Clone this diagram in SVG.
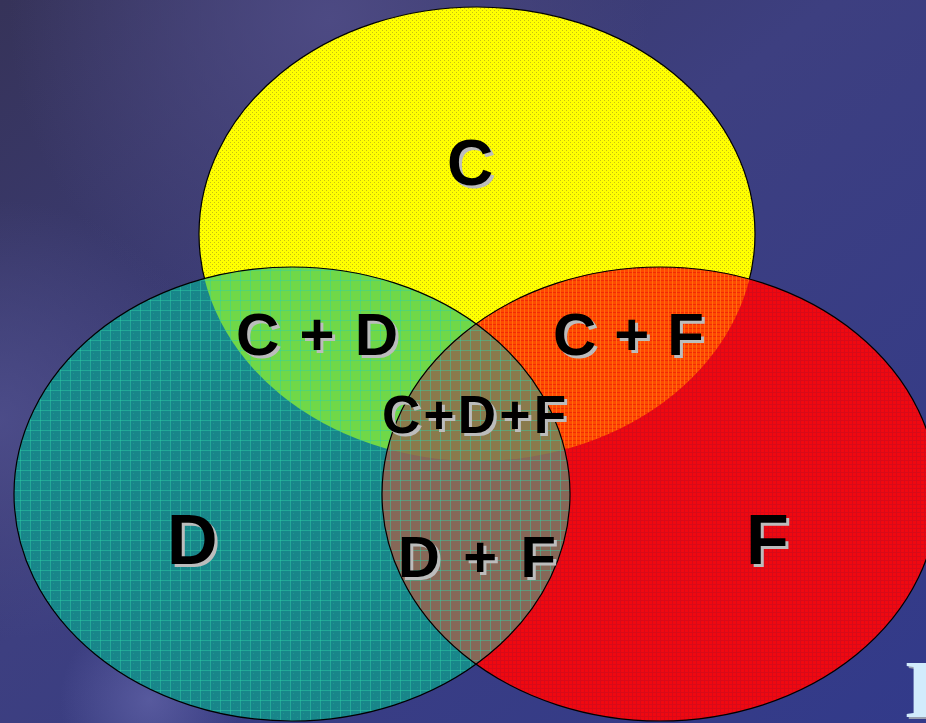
<svg xmlns="http://www.w3.org/2000/svg" width="926" height="723" viewBox="0 0 926 723">
  <defs>
    <linearGradient id="bg" x1="0" y1="0" x2="1" y2="1">
      <stop offset="0" stop-color="#363359"/>
      <stop offset="0.45" stop-color="#3d3f80"/>
      <stop offset="1" stop-color="#323a8a"/>
    </linearGradient>
    <radialGradient id="glow1" cx="330" cy="20" r="320" gradientUnits="userSpaceOnUse">
      <stop offset="0" stop-color="#4f4c86" stop-opacity="0.9"/>
      <stop offset="1" stop-color="#4f4c86" stop-opacity="0"/>
    </radialGradient>
    <radialGradient id="glow2" cx="0" cy="420" r="220" gradientUnits="userSpaceOnUse">
      <stop offset="0" stop-color="#50508e" stop-opacity="0.8"/>
      <stop offset="1" stop-color="#50508e" stop-opacity="0"/>
    </radialGradient>
    <radialGradient id="glow3" cx="150" cy="700" r="90" gradientUnits="userSpaceOnUse">
      <stop offset="0" stop-color="#6a6cb0" stop-opacity="0.6"/>
      <stop offset="1" stop-color="#6a6cb0" stop-opacity="0"/>
    </radialGradient>
    <pattern id="pY" width="4" height="4" patternUnits="userSpaceOnUse">
      <rect width="4" height="4" fill="#ffff00"/>
      <rect x="0" y="0" width="1" height="1" fill="#c8c010"/>
      <rect x="2" y="2" width="1" height="1" fill="#c8c010"/>
    </pattern>
    <pattern id="pD" width="10" height="10" patternUnits="userSpaceOnUse">
      <rect width="10" height="10" fill="#18868a"/>
      <rect x="3" y="3" width="1" height="1" fill="#22948e"/>
      <rect x="7" y="7" width="1" height="1" fill="#22948e"/>
    </pattern>
    <pattern id="grid" width="10" height="10" patternUnits="userSpaceOnUse">
      <rect x="0" y="0" width="10" height="1" fill="#2fd0a6" fill-opacity="0.45"/>
      <rect x="0" y="0" width="1" height="10" fill="#2fd0a6" fill-opacity="0.45"/>
    </pattern>
    <pattern id="pF" width="4" height="4" patternUnits="userSpaceOnUse">
      <rect width="4" height="4" fill="#f00810"/>
      <rect x="0" y="0" width="4" height="1" fill="#d80a18"/>
      <rect x="0" y="0" width="1" height="4" fill="#d80a18"/>
    </pattern>
    <pattern id="pCF" width="4" height="4" patternUnits="userSpaceOnUse">
      <rect width="4" height="4" fill="#ff4a00"/>
      <rect x="0" y="0" width="4" height="1" fill="#f02a08"/>
      <rect x="0" y="0" width="1" height="4" fill="#ff6a10"/>
    </pattern>
    <clipPath id="cY"><ellipse cx="477" cy="234" rx="278" ry="227"/></clipPath>
    <clipPath id="cD"><ellipse cx="292" cy="494" rx="278" ry="227"/></clipPath>
  </defs>
  <style>
    .lab { font-family: "Liberation Sans", Arial, sans-serif; font-weight: bold; fill: #000; }
    .sh { font-family: "Liberation Sans", Arial, sans-serif; font-weight: bold; fill: #bcbcbc; }
    .edge { fill: none; stroke: #000; stroke-width: 1.2; }
  </style>

  <rect width="926" height="723" fill="url(#bg)"/>
  <rect width="926" height="723" fill="url(#glow1)"/>
  <rect width="926" height="723" fill="url(#glow2)"/>
  <rect width="926" height="723" fill="url(#glow3)"/>

  <g id="corner-letter">
    <text x="906" y="719" font-family="Liberation Serif, serif" font-weight="bold" font-size="82" fill="#9aa0b0">I</text>
    <text x="904" y="717" font-family="Liberation Serif, serif" font-weight="bold" font-size="82" fill="#d2ecfc">I</text>
  </g>

  <g id="set-C">
    <ellipse cx="477" cy="234" rx="278" ry="227" class="edge" style="fill:url(#pY)"/>
  </g>
  <g id="set-D">
    <ellipse cx="292" cy="494" rx="278" ry="227" fill="url(#pD)"/>
  </g>
  <g id="set-F">
    <ellipse cx="660" cy="494" rx="278" ry="227" fill="url(#pF)"/>
  </g>

  <g id="overlap-CD" clip-path="url(#cY)">
    <ellipse cx="292" cy="494" rx="278" ry="227" fill="#70d848"/>
  </g>
  <g id="overlap-CF" clip-path="url(#cY)">
    <ellipse cx="660" cy="494" rx="278" ry="227" fill="url(#pCF)"/>
  </g>
  <g id="overlap-DF" clip-path="url(#cD)">
    <ellipse cx="660" cy="494" rx="278" ry="227" fill="#866858"/>
  </g>
  <g id="overlap-CDF" clip-path="url(#cD)">
    <g clip-path="url(#cY)">
      <ellipse cx="660" cy="494" rx="278" ry="227" fill="#8a7a4c"/>
    </g>
  </g>

  <g id="grid-D">
    <ellipse cx="292" cy="494" rx="278" ry="227" fill="url(#grid)"/>
  </g>

  <g id="outlines">
    <ellipse cx="660" cy="494" rx="278" ry="227" class="edge"/>
    <ellipse cx="292" cy="494" rx="278" ry="227" class="edge"/>
  </g>

  <g id="connectors"/>

  <g id="label-C">
    <text class="sh" x="473" y="188" font-size="64" text-anchor="middle">C</text>
    <text class="lab" x="470" y="185" font-size="64" text-anchor="middle">C</text>
  </g>
  <g id="label-CD">
    <text class="sh" x="239" y="358" font-size="60" textLength="162" lengthAdjust="spacing">C + D</text>
    <text class="lab" x="236" y="355" font-size="60" textLength="162" lengthAdjust="spacing">C + D</text>
  </g>
  <g id="label-CF">
    <text class="sh" x="556" y="358" font-size="60" textLength="151" lengthAdjust="spacing">C + F</text>
    <text class="lab" x="553" y="355" font-size="60" textLength="151" lengthAdjust="spacing">C + F</text>
  </g>
  <g id="label-CDF">
    <text class="sh" x="385" y="436" font-size="53" textLength="184" lengthAdjust="spacing">C+D+F</text>
    <text class="lab" x="382" y="433" font-size="53" textLength="184" lengthAdjust="spacing">C+D+F</text>
  </g>
  <g id="label-D">
    <text class="sh" x="170" y="567" font-size="70">D</text>
    <text class="lab" x="167" y="564" font-size="70">D</text>
  </g>
  <g id="label-F">
    <text class="sh" x="749" y="567" font-size="70">F</text>
    <text class="lab" x="746" y="564" font-size="70">F</text>
  </g>
  <g id="label-DF">
    <text class="sh" x="401" y="580" font-size="58" textLength="158" lengthAdjust="spacing">D + F</text>
    <text class="lab" x="398" y="577" font-size="58" textLength="158" lengthAdjust="spacing">D + F</text>
  </g>
</svg>
